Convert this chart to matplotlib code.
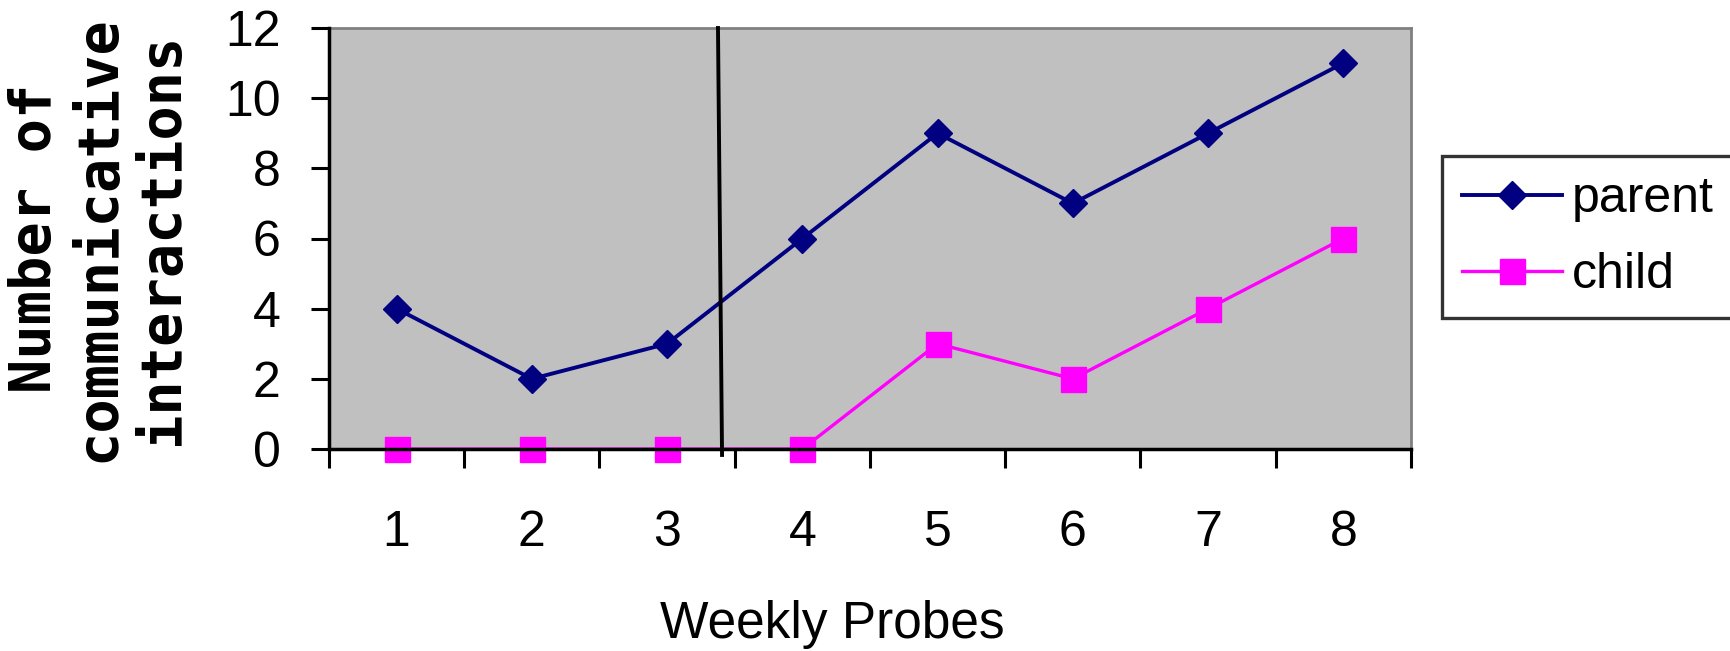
import numpy as np
import matplotlib
matplotlib.use('Agg')
import matplotlib.pyplot as plt

probes = [1, 2, 3, 4, 5, 6, 7, 8]
parent = [4, 2, 3, 6, 9, 7, 9, 11]
child = [0, 0, 0, 0, 3, 2, 4, 6]
yticks = [0, 2, 4, 6, 8, 10, 12]
# phase change line (between probe 3 and 4), slightly slanted
phase_x = [3.376, 3.406]
phase_y = [12, -0.17]

plt.rcParams['font.family'] = ['Liberation Sans', 'DejaVu Sans']

fig = plt.figure(figsize=(17.31, 6.51), dpi=100)
ax = fig.add_axes([329/1731, 1-449/651, (1411-329)/1731, (449-28)/651])
ax.set_facecolor('#c0c0c0')

ax.plot(probes, parent, '-', color='#000080', linewidth=2.8, marker='D',
        markersize=14, label='parent', clip_on=False, zorder=3)
ax.plot(probes, child, '-', color='#ff00ff', linewidth=2.4, marker='s',
        markersize=18, label='child', clip_on=False, zorder=3)
ax.plot(phase_x, phase_y, '-', color='black', linewidth=2.8, clip_on=False, zorder=4)

ax.set_xlim(0.5, 8.5)
ax.set_ylim(0, 12)
ax.set_yticks(yticks)
ax.set_xticks(np.arange(0.5, 9.0, 1.0))
ax.set_xticklabels([])
ax.set_xticks(probes, minor=True)
ax.set_xticklabels([str(p) for p in probes], minor=True)

ax.tick_params(axis='x', which='major', direction='out', length=14, width=2.2)
ax.tick_params(axis='x', which='minor', length=0, pad=44, labelsize=36)
ax.tick_params(axis='y', which='major', direction='out', length=13, width=2.2,
               pad=22, labelsize=36)

for s in ['left', 'bottom']:
    ax.spines[s].set_linewidth(2.5)
    ax.spines[s].set_color('black')
    ax.spines[s].set_zorder(5)
for s in ['top', 'right']:
    ax.spines[s].set_linewidth(2)
    ax.spines[s].set_color('#808080')

fig.text(99/1731, 1-238.5/651, 'Number of\ncommunicative\ninteractions',
         rotation=90, ha='center', va='center', multialignment='center',
         family='DejaVu Sans Mono', fontweight='bold', fontsize=41, linespacing=1.2)

fig.text(832/1731, 1-638/651, 'Weekly Probes', ha='center', va='baseline', fontsize=37)

leg = fig.legend(loc='upper left', bbox_to_anchor=(1442/1731, 1-156/651),
                 fontsize=36, frameon=True, fancybox=False, edgecolor='black',
                 handlelength=2.0, handletextpad=0.2, borderpad=0.4,
                 labelspacing=0.6, borderaxespad=0)
leg.get_frame().set_linewidth(2.4)

plt.savefig('out.png', dpi=100)
